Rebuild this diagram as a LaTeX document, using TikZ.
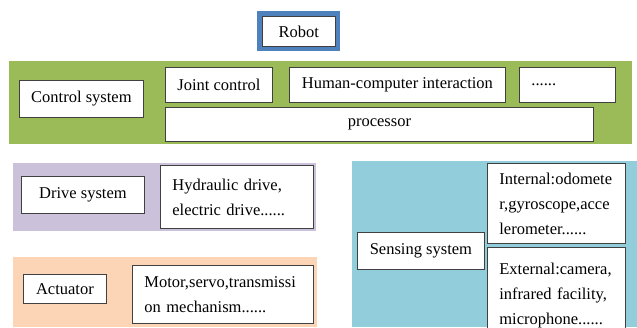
\documentclass[tikz,border=0pt]{standalone}
\usepackage{fontspec}
\setmainfont{Liberation Serif}
\definecolor{ctrlgreen}{HTML}{9BBB59}
\definecolor{drivepurple}{HTML}{CCC1DA}
\definecolor{actorange}{HTML}{FBD5B5}
\definecolor{senseblue}{HTML}{92CDDC}
\definecolor{robotblue}{HTML}{4F81BD}
\tikzset{
    box/.style={draw=black!75, fill=white, line width=0.8pt, inner sep=0pt,
        anchor=north west, font=\fontsize{16.5}{25}\selectfont},
    txtbox/.style={box, align=left, inner xsep=12pt},
}
\begin{document}
\begin{tikzpicture}[x=1pt, y=-1pt]
    \clip (0,0) rectangle (637,327);
    \fill[white] (0,0) rectangle (637,327);

    % coloured panels
    \fill[ctrlgreen] (9,61) rectangle (632,144);
    \fill[drivepurple] (13,163) rectangle (316,231);
    \fill[actorange] (13,257) rectangle (317,327);
    \fill[senseblue] (352,161) rectangle (637,327);

    % robot
    \node[box, minimum width=73pt, minimum height=30pt,
        preaction={draw=robotblue, line width=10pt}] (robot) at (262,16) {Robot};

    % control system
    \node[box, minimum width=124pt, minimum height=37pt] (ctrl) at (19,80) {Control system};
    \node[box, minimum width=107pt, minimum height=35pt] (joint) at (165,67) {Joint control};
    \node[box, minimum width=216pt, minimum height=35pt] (hci) at (289,67) {Human-computer interaction};
    \node[txtbox, text width=72pt, minimum height=35pt] (more) at (519,67) {......};
    \node[box, minimum width=428pt, minimum height=34pt] (cpu) at (165,107) {processor};

    % drive system
    \node[box, minimum width=123pt, minimum height=37pt] (drive) at (21,176) {Drive system};
    \node[txtbox, text width=129pt, minimum height=63pt] (hyd) at (160,165)
        {Hydraulic drive,\\electric drive......};

    % actuator
    \node[box, minimum width=83pt, minimum height=29pt] (act) at (23,274) {Actuator};
    \node[txtbox, text width=157pt, minimum height=58pt] (motor) at (132,265)
        {Motor,servo,transmissi\\on mechanism......};

    % sensing system
    \node[box, minimum width=127pt, minimum height=37pt] (sense) at (357,232) {Sensing system};
    \node[txtbox, text width=114pt, minimum height=80pt] (inner) at (487,163)
        {Internal:odomete\\r,gyroscope,acce\\lerometer......};
    \node[txtbox, text width=114pt, minimum height=96pt] (outer) at (487,247)
        {External:camera,\\infrared facility,\\microphone......};
\end{tikzpicture}
\end{document}
